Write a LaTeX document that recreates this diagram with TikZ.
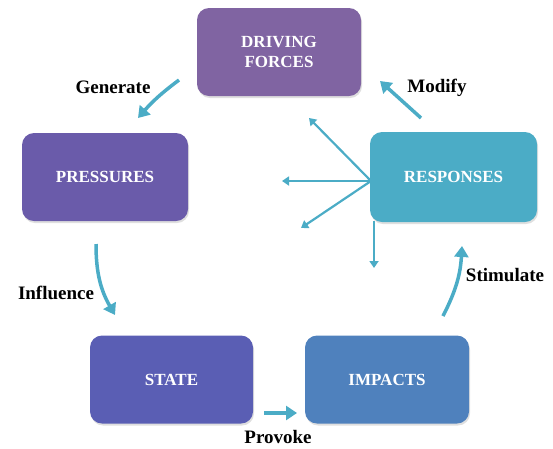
\documentclass[tikz,border=0pt]{standalone}
\usepackage{fontspec}
\setmainfont{Liberation Serif}
\usetikzlibrary{arrows.meta,shadows}
\definecolor{cDrive}{RGB}{128,100,162}
\definecolor{cPress}{RGB}{106,91,170}
\definecolor{cState}{RGB}{90,94,180}
\definecolor{cImpact}{RGB}{79,129,189}
\definecolor{cResp}{RGB}{75,172,198}
\definecolor{cArrow}{RGB}{75,172,198}
\begin{document}
\begin{tikzpicture}[x=1pt,y=-1pt,
  box/.style={rounded corners=12pt, minimum width=164pt, minimum height=88pt, inner sep=0pt,
     text=white, align=center, font=\fontsize{17}{20}\selectfont\bfseries,
     drop shadow={opacity=0.25, shadow xshift=1pt, shadow yshift=-2pt}},
  lbl/.style={font=\fontsize{19}{21}\selectfont\bfseries, text=black, inner sep=0pt},
  bigarrow/.style={draw=cArrow, line width=3.5pt, -{Triangle[length=11pt,width=14pt]}, shorten >=0pt},
  thinarrow/.style={draw=cArrow, line width=2.2pt, -{Triangle[length=7pt,width=9pt]}}
]
\useasboundingbox (0,0) rectangle (553,448);
\node[box, fill=cDrive] (drive) at (279,52) {DRIVING\\FORCES};
\node[box, fill=cPress, minimum width=166pt] (press) at (105,177) {PRESSURES};
\node[box, fill=cResp, minimum width=167pt, minimum height=90pt] (resp) at (453.5,177) {RESPONSES};
\node[box, fill=cState, minimum width=163pt] (state) at (171.5,379.5) {STATE};
\node[box, fill=cImpact, minimum width=164pt] (impact) at (387,379.5) {IMPACTS};

\coordinate (g1) at (179,80);
\coordinate (g2) at (138,118);
\coordinate (m1) at (421,118);
\coordinate (m2) at (380,81);
\coordinate (i1) at (96,244);
\coordinate (i2) at (115,315);
\coordinate (p1) at (264,413);
\coordinate (p2) at (297,413);
\coordinate (s1) at (443,316);
\coordinate (s2) at (462,246);

\draw[bigarrow] (g1) to[bend right=6] (g2);
\draw[bigarrow] (m1) -- (m2);
\draw[bigarrow] (i1) to[bend right=15] (i2);
\draw[bigarrow] (p1) -- (p2);
\draw[bigarrow] (s1) to[bend right=12] (s2);

\coordinate (r0) at (371,181);
\coordinate (ra) at (309,118);
\coordinate (rb) at (282,181);
\coordinate (rc) at (301,228);
\coordinate (rd0) at (374,221);
\coordinate (rd) at (374,268);
\draw[thinarrow] (r0) -- (ra);
\draw[thinarrow] (r0) -- (rb);
\draw[thinarrow] (r0) -- (rc);
\draw[thinarrow] (rd0) -- (rd);

\node[lbl] (lg) at (113,87) {Generate};
\node[lbl] (lm) at (437,88) {Modify};
\node[lbl] (li) at (56,293) {Influence};
\node[lbl] (lp) at (278,437) {Provoke};
\node[lbl] (ls) at (505,275) {Stimulate};
\end{tikzpicture}
\end{document}
